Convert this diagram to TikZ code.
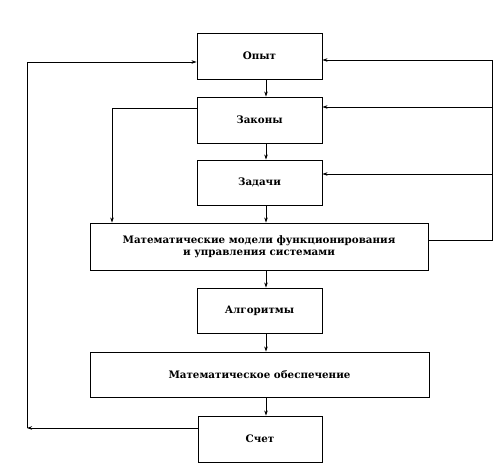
\documentclass[tikz,border=0pt]{standalone}
\usepackage{fontspec}
\setmainfont{DejaVu Serif}
\usetikzlibrary{arrows.meta}
\begin{document}
\begin{tikzpicture}[x=1pt,y=-1pt,
  blk/.style={draw, line width=0.9pt, minimum height=46pt, align=center, inner sep=0pt,
    font=\fontsize{10.3}{12}\selectfont\bfseries},
  narrow/.style={blk, minimum width=125pt},
  wide/.style={blk, minimum width=338pt},
  link/.style={line width=0.7pt},
  arr/.style={link, -{Stealth[length=5pt,width=3.5pt]}}]
\useasboundingbox (0,0) rectangle (504,470);
\node[narrow] (opyt) at (259.5,56) {Опыт};
\node[narrow] (zakony) at (259.5,120) {Законы};
\node[narrow, minimum height=45pt] (zadachi) at (259.5,182.5) {Задачи};
\node[wide, minimum height=47pt] (models) at (259,246.5) {Математические модели функционирования\\и управления системами};
\node[narrow, minimum height=45pt] (alg) at (259.5,310.5) {Алгоритмы};
\node[wide, minimum width=339pt, minimum height=45pt] (mo) at (259.5,374.5) {Математическое обеспечение};
\node[narrow, minimum width=124pt] (schet) at (260,439) {Счет};
% down arrows
\draw[arr] ([xshift=6.5pt]opyt.south) -- ([xshift=6.5pt]zakony.north);
\draw[arr] ([xshift=6.5pt]zakony.south) -- ([xshift=6.5pt]zadachi.north);
\draw[arr] ([xshift=6.5pt]zadachi.south) -- ([xshift=6.5pt]zadachi.south |- models.north);
\draw[arr] ([xshift=7pt]models.south) -- ([xshift=7pt]models.south |- alg.north);
\draw[arr] ([xshift=6.5pt]alg.south) -- ([xshift=6.5pt]alg.south |- mo.north);
\draw[arr] ([xshift=6.5pt]mo.south |- mo.south) -- ([xshift=6pt]schet.north);
% left outer loop
\coordinate (cL1) at (27,428);
\coordinate (cL2) at (27,62);
\draw[arr] (schet.west |- cL1) -- (cL1);
\draw[arr] (cL1) -- (cL2) -- (opyt.west |- cL2);
% inner left loop
\coordinate (cM) at (112,108);
\draw[arr] (zakony.west |- cM) -- (cM) -- (cM |- models.north);
% right loop
\coordinate (cR1) at (492,240);
\coordinate (cR2) at (492,60);
\coordinate (cR3) at (492,107);
\coordinate (cR4) at (492,174);
\draw[link] (models.east |- cR1) -- (cR1) -- (cR2);
\draw[arr] (cR2) -- (opyt.east |- cR2);
\draw[arr] (cR3) -- (zakony.east |- cR3);
\draw[arr] (cR4) -- (zadachi.east |- cR4);
\end{tikzpicture}
\end{document}
